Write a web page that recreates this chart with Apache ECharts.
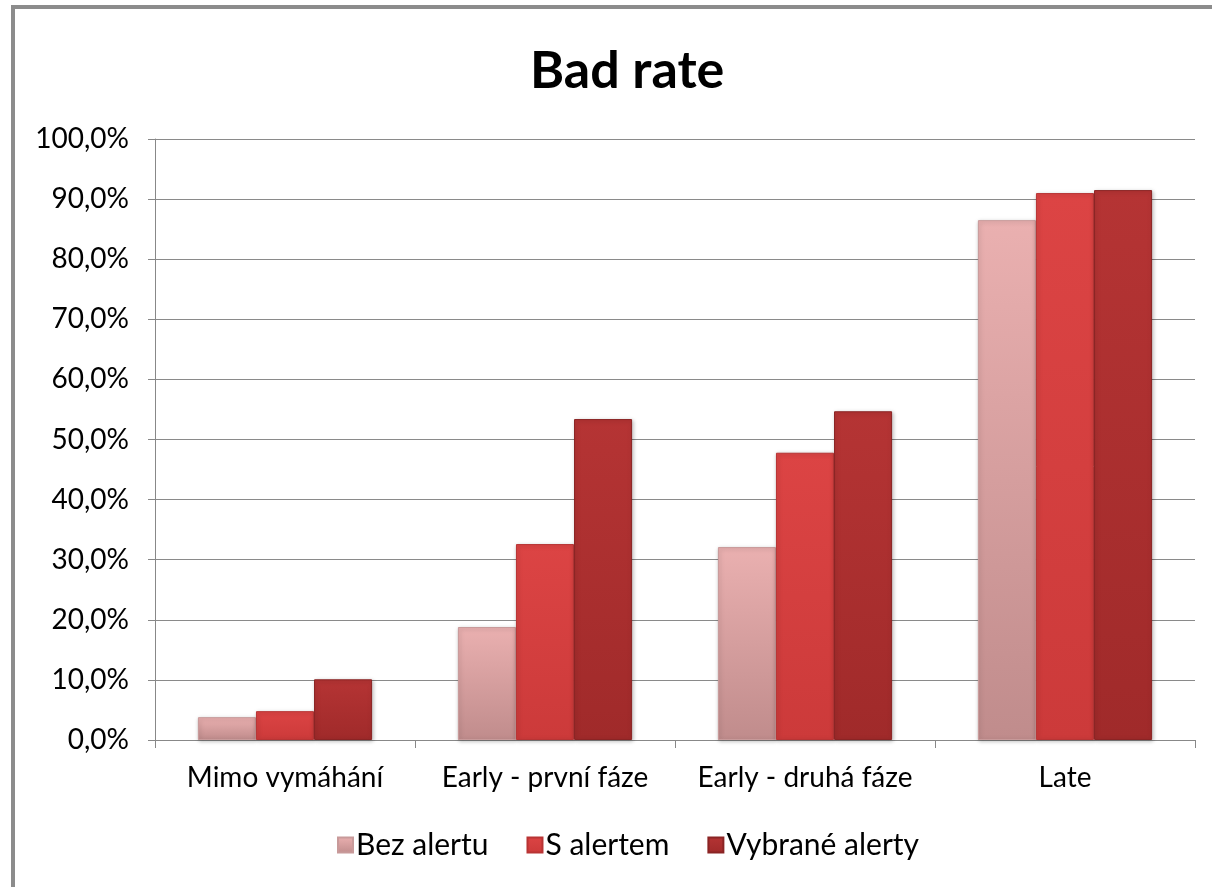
<!DOCTYPE html>
<html>
<head>
<meta charset="utf-8">
<script src="https://cdn.jsdelivr.net/npm/echarts@6/dist/echarts.min.js"></script>
<style>
  html, body { margin: 0; padding: 0; background: #fff; overflow: hidden; }
  .frame {
    position: absolute; left: 11px; top: 5px;
    width: 1300px; height: 1000px;
    border: 4px solid #8c8c8c; box-sizing: border-box;
  }
  #chart { position: absolute; left: 0; top: 0; width: 1212px; height: 887px; }
</style>
</head>
<body>
<div class="frame"></div>
<div id="chart"></div>
<script>
// kategorie a hodnoty (v %)
const categories = ['Mimo vymáhání', 'Early - první fáze', 'Early - druhá fáze', 'Late']
const bezAlertu = [3.8, 18.8, 32.1, 86.5]
const sAlertem = [4.8, 32.6, 47.8, 91.0]
const vybraneAlerty = [10.1, 53.4, 54.7, 91.5]

const font = 'Lato, "Open Sans", sans-serif'

function grad(top, bottom) {
  return new echarts.graphic.LinearGradient(0, 0, 0, 1, [
    { offset: 0, color: top },
    { offset: 1, color: bottom }
  ])
}

function barSeries(name, data, top, bottom, border) {
  return {
    name: name,
    type: 'bar',
    data: data,
    barGap: '0%',
    barCategoryGap: '33%',
    itemStyle: {
      color: grad(top, bottom),
      borderColor: border,
      borderWidth: 1,
      shadowColor: 'rgba(0,0,0,0.25)',
      shadowBlur: 4,
      shadowOffsetX: 1,
      shadowOffsetY: 1
    }
  }
}

const chart = echarts.init(document.getElementById('chart'))
chart.setOption({
  animation: false,
  title: {
    text: 'Bad rate',
    left: 525,
    top: 40,
    textStyle: { fontFamily: font, fontSize: 52, fontWeight: 'bold', color: '#000' }
  },
  grid: { left: 155, right: 17, top: 139, bottom: 147 },
  legend: {
    bottom: 22,
    left: 332,
    itemWidth: 15,
    itemHeight: 15,
    itemGap: 38,
    icon: 'rect',
    textStyle: { fontFamily: font, fontSize: 30, color: '#000', padding: [0, 0, 0, -2] },
    data: ['Bez alertu', 'S alertem', 'Vybrané alerty']
  },
  xAxis: {
    type: 'category',
    data: categories,
    axisLine: { lineStyle: { color: '#888', width: 1 } },
    axisTick: { show: true, interval: 0, length: 8, lineStyle: { color: '#888' } },
    axisLabel: { interval: 0, fontFamily: font, fontSize: 28, color: '#000', margin: 24 }
  },
  yAxis: {
    type: 'value',
    min: 0,
    max: 100,
    interval: 10,
    axisLine: { show: true, lineStyle: { color: '#888', width: 1 } },
    axisTick: { show: true, length: 7, lineStyle: { color: '#888' } },
    axisLabel: {
      fontFamily: font, fontSize: 28, color: '#000', margin: 26,
      formatter: v => v.toFixed(1).replace('.', ',') + '%'
    },
    splitLine: { lineStyle: { color: '#8a8a8a', width: 1 } }
  },
  series: [
    barSeries('Bez alertu', bezAlertu, '#eab0b0', '#c08c8c', '#c89a9a'),
    barSeries('S alertem', sAlertem, '#dc4444', '#cc3a3a', '#b83434'),
    barSeries('Vybrané alerty', vybraneAlerty, '#b53434', '#a02a2a', '#8a2424')
  ]
})
</script>
</body>
</html>
